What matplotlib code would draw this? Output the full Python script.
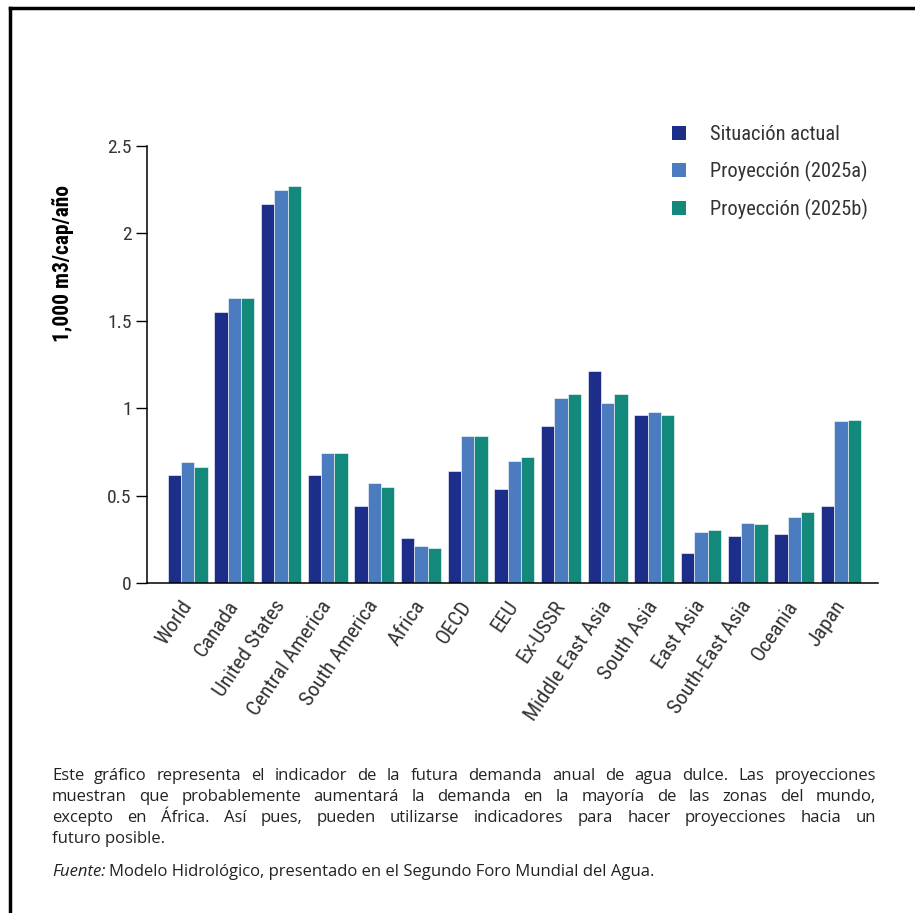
import numpy as np
import matplotlib
matplotlib.use("Agg")
import matplotlib.pyplot as plt
from matplotlib.patches import Patch
from matplotlib.transforms import ScaledTranslation

# data
regiones = ["World", "Canada", "United States", "Central America", "South America",
            "Africa", "OECD", "EEU", "Ex-USSR", "Middle East Asia", "South Asia",
            "East Asia", "South-East Asia", "Oceania", "Japan"]
actual = [0.62, 1.55, 2.17, 0.62, 0.44, 0.26, 0.64, 0.54, 0.90, 1.21, 0.96, 0.17, 0.27, 0.28, 0.44]
proy_a = [0.69, 1.63, 2.25, 0.745, 0.57, 0.21, 0.84, 0.70, 1.06, 1.03, 0.98, 0.29, 0.345, 0.375, 0.925]
proy_b = [0.665, 1.63, 2.27, 0.745, 0.55, 0.20, 0.84, 0.72, 1.08, 1.08, 0.96, 0.305, 0.34, 0.405, 0.935]
series = ["Situación actual", "Proyección (2025a)", "Proyección (2025b)"]
colores = ["#1c2e8a", "#4b7cc0", "#13897c"]

nota = ["Este gráfico representa el indicador de la futura demanda anual de agua dulce. Las proyecciones",
        "muestran que probablemente aumentará la demanda en la mayoría de las zonas del mundo,",
        "excepto en África. Así pues, pueden utilizarse indicadores para hacer proyecciones hacia un",
        "futuro posible."]
fuente = "Modelo Hidrológico, presentado en el Segundo Foro Mundial del Agua."

W, H = 915, 913
fig = plt.figure(figsize=(W / 100, H / 100), dpi=100)
fig.patch.set_facecolor("white")

ax = fig.add_axes([147 / W, 1 - 583 / H, (878 - 147) / W, (583 - 146) / H])

cond = dict(family=["Roboto Condensed", "DejaVu Sans"])
x = np.arange(len(regiones))
bw = 0.285
for k, vals in enumerate([actual, proy_a, proy_b]):
    ax.bar(x + (k - 1) * bw, vals, width=bw, color=colores[k],
           edgecolor="white", linewidth=0.4, label=series[k])

ax.set_xlim(-0.87, 14.79)
ax.set_ylim(0, 2.5)
ax.set_yticks([0, 0.5, 1, 1.5, 2, 2.5])
ax.set_yticklabels(["0", "0.5", "1", "1.5", "2", "2.5"], fontsize=14, color="#333333", **cond)
ax.set_xticks(x)
ax.set_xticklabels(regiones, rotation=56, ha="right", va="center", rotation_mode="anchor",
                   fontsize=15.3, color="#333333", **cond)
shift = ScaledTranslation(5 / 100, 0, fig.dpi_scale_trans)
for lab in ax.get_xticklabels():
    lab.set_transform(lab.get_transform() + shift)
ax.tick_params(axis="x", length=0, pad=14)
ax.tick_params(axis="y", length=8, width=1, pad=3)
for s in ["top", "right"]:
    ax.spines[s].set_visible(False)
ax.spines["left"].set_linewidth(1.1)
ax.spines["bottom"].set_linewidth(1.1)

ax.set_ylabel("1,000 m3/cap/año", fontsize=15.5, fontweight="bold", **cond)
ax.yaxis.set_label_coords((74 - 147) / (878 - 147), (583 - 263) / (583 - 146))

handles = [Patch(facecolor=c) for c in colores]
leg = ax.legend(handles, series, loc="upper right", bbox_to_anchor=(1.011, 1.09), frameon=False,
                handlelength=0.7, handleheight=0.7, handletextpad=1.15, labelspacing=0.82,
                prop=dict(size=14.7, **cond))
for t in leg.get_texts():
    t.set_color("#333333")

# frame lines (top and left only)
fig.add_artist(plt.Line2D([9.5 / W, 9.5 / W], [0, 1 - 8 / H], color="black", lw=2.5,
                          transform=fig.transFigure))
fig.add_artist(plt.Line2D([9.5 / W, 1], [1 - 8.5 / H, 1 - 8.5 / H], color="black", lw=2.5,
                          transform=fig.transFigure))

# justified caption
cap_font = "Open Sans"
cap_size = 12
renderer = fig.canvas.get_renderer()
left, right = 52, 876
ys = [776, 797, 818, 839]
for i, line in enumerate(nota):
    y = 1 - ys[i] / H
    words = line.split(" ")
    if i == len(nota) - 1:
        fig.text(left / W, y, line, fontfamily=cap_font, fontsize=cap_size, va="center", color="#222222")
        continue
    widths = []
    for w in words:
        t = fig.text(0, 0, w, fontfamily=cap_font, fontsize=cap_size)
        widths.append(t.get_window_extent(renderer).width)
        t.remove()
    gap = max((right - left - sum(widths)) / (len(words) - 1), 2)
    xp = left
    for w, wd in zip(words, widths):
        fig.text(xp / W, y, w, fontfamily=cap_font, fontsize=cap_size, va="center", color="#222222")
        xp += wd + gap

t = fig.text(left / W, 1 - 872 / H, "Fuente:", fontfamily=cap_font, fontsize=cap_size,
             style="italic", va="center", color="#222222")
wf = t.get_window_extent(renderer).width
fig.text((left + wf + 4) / W, 1 - 872 / H, fuente, fontfamily=cap_font, fontsize=cap_size,
         va="center", color="#222222")

fig.savefig("out.png", dpi=100, facecolor="white")
